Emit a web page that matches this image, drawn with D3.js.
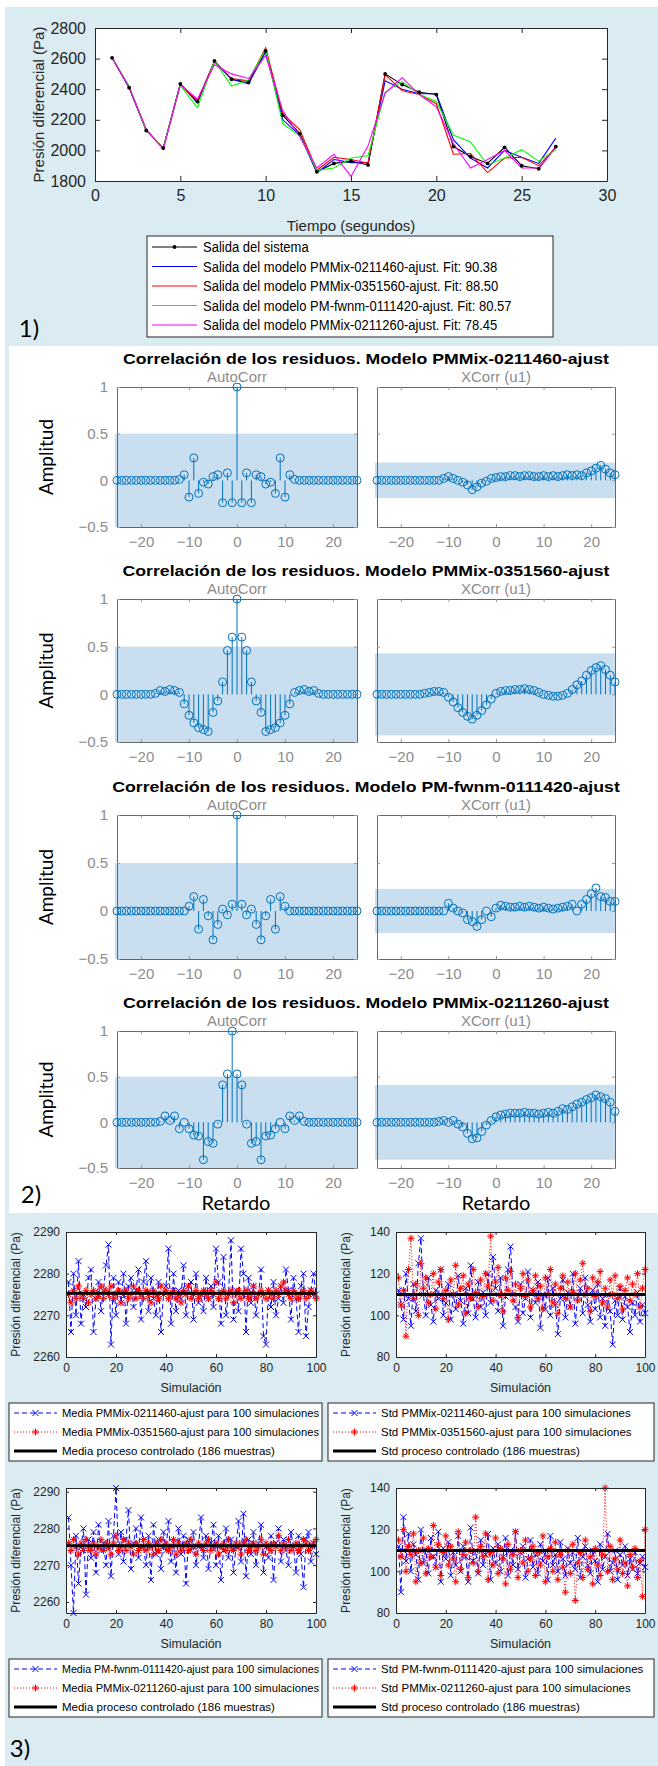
<!DOCTYPE html>
<html>
<head>
<meta charset="utf-8">
<script src="https://cdn.jsdelivr.net/npm/d3@7"></script>
<style>
  body { margin: 0; background: #fff; }
  svg { display: block; }
</style>
</head>
<body>
<svg id="chart" width="658" height="1766"></svg>
<script>
// ---------- 1) salida del sistema vs modelos ----------
const tiempo = [1,2,3,4,5,6,7,8,9,10,11,12,13,14,15,16,17,18,19,20,21,22,23,24,25,26,27];
const salidaSistema = [2605,2410,2130,2015,2435,2320,2585,2465,2445,2650,2230,2110,1860,1915,1930,1905,2500,2430,2380,2365,2025,1960,1915,2020,1900,1880,2025];
const salida0211460 = [2605,2410,2130,2015,2435,2310,2580,2465,2435,2645,2200,2100,1855,1940,1920,1920,2455,2400,2370,2370,2070,1950,1885,2000,1955,1915,2080];
const salida0351560 = [2605,2415,2135,2015,2430,2325,2580,2470,2455,2670,2240,2135,1870,1955,1940,1915,2495,2390,2365,2305,1975,1980,1855,1950,1955,1900,2020];
const salidaFwnm    = [2605,2420,2130,2015,2425,2280,2585,2420,2460,2660,2175,2095,1870,1885,1950,1965,2380,2450,2365,2320,2100,2055,1905,1950,2005,1930,2005];
const salida0211260 = [2605,2415,2140,2005,2430,2335,2560,2500,2470,2620,2260,2090,1885,1975,1830,2030,2375,2475,2365,2285,2045,1885,1940,2000,1885,1885,2020];
const leyendaSalida = [
  "Salida del sistema",
  "Salida del modelo PMMix-0211460-ajust. Fit: 90.38",
  "Salida del modelo PMMix-0351560-ajust. Fit: 88.50",
  "Salida del modelo PM-fwnm-0111420-ajust. Fit: 80.57",
  "Salida del modelo PMMix-0211260-ajust. Fit: 78.45"
];

// ---------- 2) correlacion de residuos ----------
const retardos = [-25,-24,-23,-22,-21,-20,-19,-18,-17,-16,-15,-14,-13,-12,-11,-10,-9,-8,-7,-6,-5,-4,-3,-2,-1,0,1,2,3,4,5,6,7,8,9,10,11,12,13,14,15,16,17,18,19,20,21,22,23,24,25];
const modelos = ["PMMix-0211460-ajust","PMMix-0351560-ajust","PM-fwnm-0111420-ajust","PMMix-0211260-ajust"];
const autoCorr1 = [0,0,0,0,0,0,0,0,0,0,0,0,0,0.01,0.06,-0.18,0.24,-0.14,-0.02,-0.04,0.04,0.06,-0.24,0.08,-0.24,1,-0.24,0.08,-0.24,0.06,0.04,-0.04,-0.02,-0.14,0.24,-0.18,0.06,0.01,0,0,0,0,0,0,0,0,0,0,0,0,0];
const xCorr1 = [0,0,0,0,0,0,0,0,0,0,0,0,0,0,0.02,0.04,0.02,0,-0.02,-0.05,-0.1,-0.07,-0.03,-0.01,0.02,0.03,0.04,0.04,0.05,0.05,0.04,0.05,0.05,0.04,0.04,0.05,0.04,0.05,0.04,0.05,0.06,0.05,0.06,0.05,0.08,0.1,0.13,0.16,0.12,0.08,0.06];
const autoCorr2 = [0,0,0,0,0,0,0,0,0.01,0.04,0.03,0.05,0.04,0.02,-0.1,-0.22,-0.3,-0.35,-0.37,-0.39,-0.19,-0.07,0.13,0.46,0.6,1,0.6,0.46,0.13,-0.07,-0.19,-0.39,-0.37,-0.35,-0.3,-0.22,-0.1,0.02,0.04,0.05,0.03,0.04,0.01,0,0,0,0,0,0,0,0];
const xCorr2 = [0,0,0,0,0,0,0,0,0,0,0.01,0.02,0.03,0.03,0.02,-0.03,-0.08,-0.14,-0.19,-0.23,-0.26,-0.22,-0.17,-0.11,-0.05,0.01,0.03,0.04,0.04,0.05,0.05,0.06,0.05,0.04,0.02,0,-0.01,-0.02,-0.02,-0.01,0.01,0.05,0.1,0.14,0.2,0.25,0.28,0.3,0.26,0.2,0.13];
const autoCorr3 = [0,0,0,0,0,0,0,0,0,0,0,0,0,0,0,0.05,0.15,-0.19,0.12,-0.05,-0.3,-0.14,0.02,-0.04,0.07,1,0.07,-0.04,0.02,-0.14,-0.3,-0.05,0.12,-0.19,0.15,0.05,0,0,0,0,0,0,0,0,0,0,0,0,0,0,0];
const xCorr3 = [0,0,0,0,0,0,0,0,0,0,0,0,0,0,0,0.08,0.03,0,-0.02,-0.09,-0.11,-0.16,-0.09,0,-0.06,0.03,0.06,0.05,0.04,0.04,0.05,0.04,0.05,0.04,0.03,0.04,0.03,0.02,0.03,0.04,0.05,0.07,0,0.07,0.12,0.18,0.24,0.15,0.14,0.1,0.1];
const autoCorr4 = [0,0,0,0,0,0,0,0,0,0.01,0.07,0.02,0.07,-0.07,0,-0.07,-0.14,-0.15,-0.41,-0.21,-0.23,-0.02,0.41,0.53,1,0.53,0.41,-0.02,-0.23,-0.21,-0.41,-0.15,-0.14,-0.07,0,-0.07,0.07,0.02,0.07,0.01,0,0,0,0,0,0,0,0,0,0,0];
const xCorr4 = [0,0,0,0,0,0,0,0,0,0,0,0,0,0.01,0.02,0,0.02,-0.02,-0.05,-0.12,-0.18,-0.17,-0.1,-0.03,0.02,0.06,0.08,0.09,0.1,0.1,0.1,0.11,0.1,0.1,0.09,0.1,0.11,0.1,0.12,0.15,0.14,0.17,0.2,0.22,0.25,0.27,0.3,0.28,0.26,0.22,0.12];
const bandaAuto = [0.5, 0.5, 0.5, 0.5];
const bandaXCorr = [0.19, 0.43, 0.23, 0.41];

// ---------- 3) simulaciones ----------
const simulacion = d3.range(1, 101);
const mediaA0211460 = [2278,2266,2280,2270,2283,2268,2275,2272,2279,2281,2266,2274,2278,2271,2276,2282,2287,2263,2279,2270,2278,2273,2280,2268,2277,2279,2272,2276,2281,2269,2278,2283,2271,2279,2274,2270,2278,2266,2275,2277,2286,2268,2280,2271,2276,2274,2282,2270,2277,2278,2269,2280,2273,2275,2271,2279,2274,2277,2272,2286,2278,2268,2284,2270,2275,2288,2269,2276,2271,2286,2280,2266,2279,2273,2277,2270,2275,2281,2265,2263,2276,2272,2278,2270,2274,2277,2273,2281,2276,2269,2279,2274,2266,2277,2280,2265,2272,2276,2280,2275];
const mediaA0351560 = [2275,2273,2276,2274,2277,2275,2274,2276,2273,2275,2276,2274,2275,2277,2274,2276,2275,2277,2274,2275,2276,2273,2275,2276,2274,2275,2277,2274,2276,2275,2274,2276,2275,2273,2276,2275,2274,2277,2275,2276,2274,2275,2276,2274,2275,2273,2276,2275,2277,2274,2275,2276,2274,2275,2276,2275,2274,2276,2275,2278,2274,2275,2276,2274,2275,2276,2273,2275,2276,2274,2275,2276,2274,2275,2277,2274,2275,2276,2275,2274,2276,2275,2274,2276,2275,2277,2278,2276,2275,2274,2276,2275,2274,2275,2276,2274,2275,2276,2275,2274];
const stdB0211460 = [112,105,98,120,108,95,115,102,125,137,110,100,118,105,97,112,108,122,100,106,115,98,110,103,119,107,96,113,101,124,108,99,116,104,111,100,120,106,128,113,102,118,95,109,122,133,110,104,97,115,101,108,121,99,112,106,116,94,110,103,118,100,113,105,91,108,117,99,111,104,120,96,109,113,101,118,105,97,112,103,115,99,108,95,110,102,86,107,100,113,98,109,104,92,106,100,111,97,105,101];
const stdB0351560 = [118,105,112,90,122,137,108,115,100,125,113,118,106,110,120,103,116,122,108,112,98,117,110,124,105,113,119,101,115,108,122,111,104,117,109,120,114,138,107,116,123,110,102,118,112,121,107,115,99,113,120,109,117,104,112,119,108,114,103,118,110,122,106,115,101,113,119,108,116,104,111,120,107,117,125,110,113,102,118,109,116,121,106,113,104,117,110,119,108,114,103,112,118,107,115,110,120,104,113,122];
const mediaCFwnm = [2283,2270,2257,2278,2265,2275,2280,2262,2277,2272,2279,2268,2281,2274,2276,2270,2282,2267,2278,2291,2273,2279,2271,2277,2285,2269,2276,2280,2272,2283,2275,2270,2278,2266,2281,2273,2277,2269,2279,2274,2282,2271,2276,2268,2280,2273,2278,2265,2277,2274,2279,2270,2275,2283,2272,2278,2269,2276,2281,2270,2278,2266,2274,2280,2272,2277,2268,2275,2282,2271,2284,2267,2277,2273,2279,2270,2276,2281,2268,2275,2272,2278,2266,2276,2280,2271,2277,2274,2270,2279,2275,2268,2278,2273,2264,2277,2279,2271,2276,2273];
const mediaC0211260 = [2276,2274,2277,2275,2273,2276,2274,2277,2275,2274,2276,2273,2275,2277,2274,2276,2275,2273,2276,2278,2274,2275,2277,2274,2276,2275,2273,2276,2274,2275,2277,2274,2276,2275,2273,2276,2274,2277,2275,2276,2274,2275,2277,2273,2276,2274,2275,2276,2274,2277,2275,2273,2276,2275,2274,2276,2277,2274,2275,2276,2273,2275,2276,2274,2277,2275,2274,2276,2275,2273,2276,2277,2274,2275,2276,2274,2275,2277,2273,2276,2275,2274,2276,2275,2278,2274,2276,2275,2277,2274,2275,2276,2274,2275,2277,2276,2274,2275,2276,2277];
const stdDFwnm = [112,90,126,105,118,100,113,108,96,120,104,110,99,116,107,102,119,95,111,106,114,98,109,103,117,100,112,107,95,121,105,110,99,115,103,108,118,96,111,104,113,100,107,116,98,110,103,119,101,109,112,97,106,115,102,108,99,113,105,110,96,117,103,108,100,114,106,98,111,104,109,101,116,97,107,112,103,99,110,105,95,113,101,107,118,100,104,110,96,108,103,112,98,106,101,109,99,104,107,102];
const stdD0211260 = [115,107,120,100,112,108,118,95,110,104,116,99,111,107,122,102,113,98,109,117,103,112,106,95,119,101,108,114,97,110,104,126,100,112,107,118,96,109,103,116,99,111,106,94,113,101,108,119,97,110,104,115,100,106,112,98,109,103,117,95,107,111,100,114,96,108,102,90,110,99,113,86,104,109,97,115,101,107,94,111,103,98,108,140,100,112,96,106,101,115,99,104,93,108,102,111,97,105,88,120];
const mediaProceso = 2275.3;
const stdProceso = 110;

const svg = d3.select("#chart");
const azulFondo = "#daebf2";
const matlabAzul = "#0072bd";
const fuenteMatlab = "'Liberation Sans', Arial, sans-serif";
const fuenteWord = "Lato, 'Open Sans', sans-serif";

// fondos de las tres secciones
svg.append("rect").attr("x", 5).attr("y", 7).attr("width", 653).attr("height", 339).attr("fill", azulFondo);
svg.append("rect").attr("x", 5).attr("y", 346).attr("width", 4).attr("height", 867).attr("fill", azulFondo);
svg.append("rect").attr("x", 5).attr("y", 1213).attr("width", 653).attr("height", 553).attr("fill", azulFondo);

function etiqueta(x, y, txt, size, opts = {}) {
    return svg.append("text")
        .attr("x", x).attr("y", y)
        .attr("text-anchor", opts.anchor || "middle")
        .attr("dominant-baseline", "central")
        .attr("font-family", opts.family || fuenteMatlab)
        .attr("font-size", size)
        .attr("font-weight", opts.weight || "normal")
        .attr("fill", opts.fill || "#262626")
        .attr("transform", opts.rotate ? `rotate(-90,${x},${y})` : null)
        .text(txt);
}

// ================= 1) =================
{
    const L = 95, R = 607, T = 28, B = 181;
    const x = d3.scaleLinear().domain([0, 30]).range([L, R]);
    const y = d3.scaleLinear().domain([1800, 2800]).range([B, T]);
    const g = svg.append("g");
    g.append("rect").attr("x", L).attr("y", T).attr("width", R - L).attr("height", B - T).attr("fill", "#fff");

    const xt = [0, 5, 10, 15, 20, 25, 30];
    const yt = [1800, 2000, 2200, 2400, 2600, 2800];
    const ejes = [
        [d3.axisBottom(x).tickValues(xt), `translate(0,${B})`, true],
        [d3.axisTop(x).tickValues(xt), `translate(0,${T})`, false],
        [d3.axisLeft(y).tickValues(yt), `translate(${L},0)`, true],
        [d3.axisRight(y).tickValues(yt), `translate(${R},0)`, false]
    ];
    ejes.forEach(([ax, tr, labels]) => {
        const a = g.append("g").attr("transform", tr)
            .call(ax.tickSize(-5).tickPadding(9).tickSizeOuter(0).tickFormat(labels ? d3.format("d") : ""));
        a.select(".domain").attr("stroke", "#262626");
        a.selectAll(".tick line").attr("stroke", "#262626");
        a.selectAll("text").attr("font-family", fuenteMatlab).attr("font-size", 16).attr("fill", "#262626");
    });

    const linea = d3.line().x((d, i) => x(tiempo[i])).y(d => y(d));
    const series = [
        [salidaSistema, "#000"],
        [salida0211460, "#0000ff"],
        [salida0351560, "#ff0000"],
        [salidaFwnm, "#00ff00"],
        [salida0211260, "#ff00ff"]
    ];
    series.forEach(([s, c]) => {
        g.append("path").datum(s).attr("d", linea).attr("fill", "none").attr("stroke", c).attr("stroke-width", 1.1);
    });
    g.selectAll("circle.pt").data(salidaSistema).enter().append("circle")
        .attr("class", "pt").attr("cx", (d, i) => x(tiempo[i])).attr("cy", d => y(d)).attr("r", 1.9).attr("fill", "#000");

    etiqueta(38, (T + B) / 2, "Presión diferencial (Pa)", 15, { rotate: true });
    etiqueta((L + R) / 2, 225, "Tiempo (segundos)", 15);

    // leyenda
    const lx = 147, ly = 236, lw = 406, lh = 101;
    g.append("rect").attr("x", lx).attr("y", ly).attr("width", lw).attr("height", lh)
        .attr("fill", "#fff").attr("stroke", "#262626").attr("stroke-width", 1);
    leyendaSalida.forEach((t, i) => {
        const yy = 247 + i * 19.5;
        g.append("line").attr("x1", 152).attr("x2", 197).attr("y1", yy).attr("y2", yy)
            .attr("stroke", series[i][1]).attr("stroke-width", 1.1);
        if (i === 0) g.append("circle").attr("cx", 174.5).attr("cy", yy).attr("r", 1.9).attr("fill", "#000");
        const tx = g.append("text").attr("x", 203).attr("y", yy).attr("dominant-baseline", "central")
            .attr("font-family", fuenteMatlab).attr("font-size", 14).attr("fill", "#000").text(t);
        const w = tx.node().getComputedTextLength();
        tx.attr("textLength", w * 0.93).attr("lengthAdjust", "spacingAndGlyphs");
    });

    etiqueta(29, 327, "1)", 24, { family: fuenteWord, fill: "#000" });
}

// ================= 2) =================
{
    const tops = [387, 599, 815, 1031];
    const bottoms = [527, 742, 959, 1168];
    const autos = [autoCorr1, autoCorr2, autoCorr3, autoCorr4];
    const xcorrs = [xCorr1, xCorr2, xCorr3, xCorr4];
    const paneles = [[117, 357], [377, 615]];
    let factorTitulo = null;

    modelos.forEach((m, k) => {
        const T = tops[k], B = bottoms[k];
        const y = d3.scaleLinear().domain([-0.5, 1]).range([B, T]);
        const tit = etiqueta(366, T - 29, `Correlación de los residuos. Modelo ${m}`, 15.5, { weight: "bold", fill: "#000" });
        const wt = tit.node().getComputedTextLength();
        if (factorTitulo === null) factorTitulo = 486 / wt;
        tit.attr("textLength", wt * factorTitulo).attr("lengthAdjust", "spacingAndGlyphs");

        paneles.forEach(([L, R], p) => {
            const x = d3.scaleLinear().domain([-25, 25]).range([L, R]);
            const datos = p === 0 ? autos[k] : xcorrs[k];
            const banda = p === 0 ? bandaAuto[k] : bandaXCorr[k];
            const g = svg.append("g");
            etiqueta((L + R) / 2, T - 11, p === 0 ? "AutoCorr" : "XCorr (u1)", 15, { fill: "#8c8c8c" });

            g.append("rect").attr("x", L).attr("y", T).attr("width", R - L).attr("height", B - T).attr("fill", "#fff");
            g.append("rect").attr("x", L - 2).attr("y", y(banda)).attr("width", R - L + 2)
                .attr("height", y(-banda) - y(banda)).attr("fill", "#c9dff0");

            const xt = [-20, -10, 0, 10, 20];
            const yt = [-0.5, 0, 0.5, 1];
            const ejes = [
                [d3.axisBottom(x).tickValues(xt), `translate(0,${B})`, true],
                [d3.axisTop(x).tickValues(xt), `translate(0,${T})`, false],
                [d3.axisLeft(y).tickValues(yt), `translate(${L},0)`, p === 0],
                [d3.axisRight(y).tickValues(yt), `translate(${R},0)`, false]
            ];
            ejes.forEach(([ax, tr, labels]) => {
                const a = g.append("g").attr("transform", tr)
                    .call(ax.tickSize(-3).tickPadding(9).tickSizeOuter(0).tickFormat(labels ? d3.format("") : ""));
                a.select(".domain").attr("stroke", "#666");
                a.selectAll(".tick line").attr("stroke", "#999");
                a.selectAll("text").attr("font-family", fuenteMatlab).attr("font-size", 15).attr("fill", "#8c8c8c");
            });

            g.selectAll("line.stem").data(datos).enter().append("line")
                .attr("class", "stem")
                .attr("x1", (d, i) => x(retardos[i])).attr("x2", (d, i) => x(retardos[i]))
                .attr("y1", y(0)).attr("y2", d => y(d))
                .attr("stroke", matlabAzul).attr("stroke-width", 1);
            g.selectAll("circle.mk").data(datos).enter().append("circle")
                .attr("class", "mk")
                .attr("cx", (d, i) => x(retardos[i])).attr("cy", d => y(d)).attr("r", 4)
                .attr("fill", "none").attr("stroke", matlabAzul).attr("stroke-width", 1);
        });
        etiqueta(45, (T + B) / 2, "Amplitud", 19, { family: fuenteWord, fill: "#000", rotate: true });
    });
    etiqueta(236, 1202, "Retardo", 20, { family: fuenteWord, fill: "#000" });
    etiqueta(496, 1202, "Retardo", 20, { family: fuenteWord, fill: "#000" });
    etiqueta(31, 1193, "2)", 24, { family: fuenteWord, fill: "#000" });
}

// ================= 3) =================
function simbolo(g, cx, cy, tipo, color) {
    const s = tipo === "x" ? 3 : 3.5;
    const segs = tipo === "x"
        ? [[-s, -s, s, s], [-s, s, s, -s]]
        : [[-s, 0, s, 0], [0, -s, 0, s], [-s * 0.7, -s * 0.7, s * 0.7, s * 0.7], [-s * 0.7, s * 0.7, s * 0.7, -s * 0.7]];
    segs.forEach(([a, b, c, d]) => {
        g.append("line").attr("x1", cx + a).attr("y1", cy + b).attr("x2", cx + c).attr("y2", cy + d)
            .attr("stroke", color).attr("stroke-width", 1);
    });
}

function panelSim(cfg) {
    const { L, R, T, B, dominio, ticksY, azul, rojo, ref, leyenda, lx, lw } = cfg;
    const x = d3.scaleLinear().domain([0, 100]).range([L, R]);
    const y = d3.scaleLinear().domain(dominio).range([B, T]);
    const g = svg.append("g");
    g.append("rect").attr("x", L).attr("y", T).attr("width", R - L).attr("height", B - T).attr("fill", "#fff");

    const clip = "clip" + L + T;
    g.append("clipPath").attr("id", clip).append("rect").attr("x", L).attr("y", T - 4).attr("width", R - L + 4).attr("height", B - T + 8);
    const dg = g.append("g").attr("clip-path", `url(#${clip})`);

    const linea = d3.line().x((d, i) => x(simulacion[i])).y(d => y(d));
    dg.append("path").datum(azul).attr("d", linea).attr("fill", "none").attr("stroke", "#0000ff")
        .attr("stroke-width", 1).attr("stroke-dasharray", "5,3");
    azul.forEach((d, i) => simbolo(dg, x(simulacion[i]), y(d), "x", "#0000ff"));
    dg.append("path").datum(rojo).attr("d", linea).attr("fill", "none").attr("stroke", "#ff0000")
        .attr("stroke-width", 1).attr("stroke-dasharray", "1,2");
    rojo.forEach((d, i) => simbolo(dg, x(simulacion[i]), y(d), "*", "#ff0000"));
    dg.append("line").attr("x1", x(0)).attr("x2", x(100)).attr("y1", y(ref)).attr("y2", y(ref))
        .attr("stroke", "#000").attr("stroke-width", 3);

    const xt = [0, 20, 40, 60, 80, 100];
    const ejes = [
        [d3.axisBottom(x).tickValues(xt), `translate(0,${B})`, true],
        [d3.axisTop(x).tickValues(xt), `translate(0,${T})`, false],
        [d3.axisLeft(y).tickValues(ticksY), `translate(${L},0)`, true],
        [d3.axisRight(y).tickValues(ticksY), `translate(${R},0)`, false]
    ];
    ejes.forEach(([ax, tr, labels]) => {
        const a = g.append("g").attr("transform", tr)
            .call(ax.tickSize(-3).tickPadding(6).tickSizeOuter(0).tickFormat(labels ? d3.format("d") : ""));
        a.select(".domain").attr("stroke", "#262626");
        a.selectAll(".tick line").attr("stroke", "#262626");
        a.selectAll("text").attr("font-family", fuenteMatlab).attr("font-size", 12).attr("fill", "#262626");
    });
    etiqueta((L + R) / 2, B + 31, "Simulación", 12.5);
    etiqueta(L - 50, (T + B) / 2, "Presión diferencial (Pa)", 12, { rotate: true });

    // leyenda
    const ly = B + 46, lh = 58;
    g.append("rect").attr("x", lx).attr("y", ly).attr("width", lw).attr("height", lh)
        .attr("fill", "#fff").attr("stroke", "#262626").attr("stroke-width", 1);
    leyenda.forEach((t, i) => {
        const yy = ly + 10 + i * 19;
        const ln = g.append("line").attr("x1", lx + 5).attr("x2", lx + 48).attr("y1", yy).attr("y2", yy);
        if (i === 0) { ln.attr("stroke", "#0000ff").attr("stroke-dasharray", "5,3"); simbolo(g, lx + 26.5, yy, "x", "#0000ff"); }
        else if (i === 1) { ln.attr("stroke", "#ff0000").attr("stroke-dasharray", "1,2"); simbolo(g, lx + 26.5, yy, "*", "#ff0000"); }
        else ln.attr("stroke", "#000").attr("stroke-width", 3);
        const tx = g.append("text").attr("x", lx + 53).attr("y", yy).attr("dominant-baseline", "central")
            .attr("font-family", fuenteMatlab).attr("font-size", 11.5).attr("fill", "#000").text(t);
        const disp = lw - 56;
        if (tx.node().getComputedTextLength() > disp) tx.attr("textLength", disp).attr("lengthAdjust", "spacingAndGlyphs");
    });
}

const filas = [[1232, 1357], [1488, 1613]];
panelSim({ L: 66, R: 316, T: filas[0][0], B: filas[0][1], dominio: [2260, 2290], ticksY: [2260, 2270, 2280, 2290],
    azul: mediaA0211460, rojo: mediaA0351560, ref: mediaProceso, lx: 9, lw: 313,
    leyenda: ["Media PMMix-0211460-ajust para 100 simulaciones", "Media PMMix-0351560-ajust para 100 simulaciones", "Media proceso controlado (186 muestras)"] });
panelSim({ L: 396, R: 645, T: filas[0][0], B: filas[0][1], dominio: [80, 140], ticksY: [80, 100, 120, 140],
    azul: stdB0211460, rojo: stdB0351560, ref: stdProceso, lx: 328, lw: 326,
    leyenda: ["Std PMMix-0211460-ajust para 100 simulaciones", "Std PMMix-0351560-ajust para 100 simulaciones", "Std proceso controlado (186 muestras)"] });
panelSim({ L: 66, R: 316, T: filas[1][0], B: filas[1][1], dominio: [2257, 2291], ticksY: [2260, 2270, 2280, 2290],
    azul: mediaCFwnm, rojo: mediaC0211260, ref: mediaProceso, lx: 9, lw: 313,
    leyenda: ["Media PM-fwnm-0111420-ajust para 100 simulaciones", "Media PMMix-0211260-ajust para 100 simulaciones", "Media proceso controlado (186 muestras)"] });
panelSim({ L: 396, R: 645, T: filas[1][0], B: filas[1][1], dominio: [80, 140], ticksY: [80, 100, 120, 140],
    azul: stdDFwnm, rojo: stdD0211260, ref: stdProceso, lx: 328, lw: 326,
    leyenda: ["Std PM-fwnm-0111420-ajust para 100 simulaciones", "Std PMMix-0211260-ajust para 100 simulaciones", "Std proceso controlado (186 muestras)"] });
etiqueta(20, 1747, "3)", 24, { family: fuenteWord, fill: "#000" });
</script>
</body>
</html>
